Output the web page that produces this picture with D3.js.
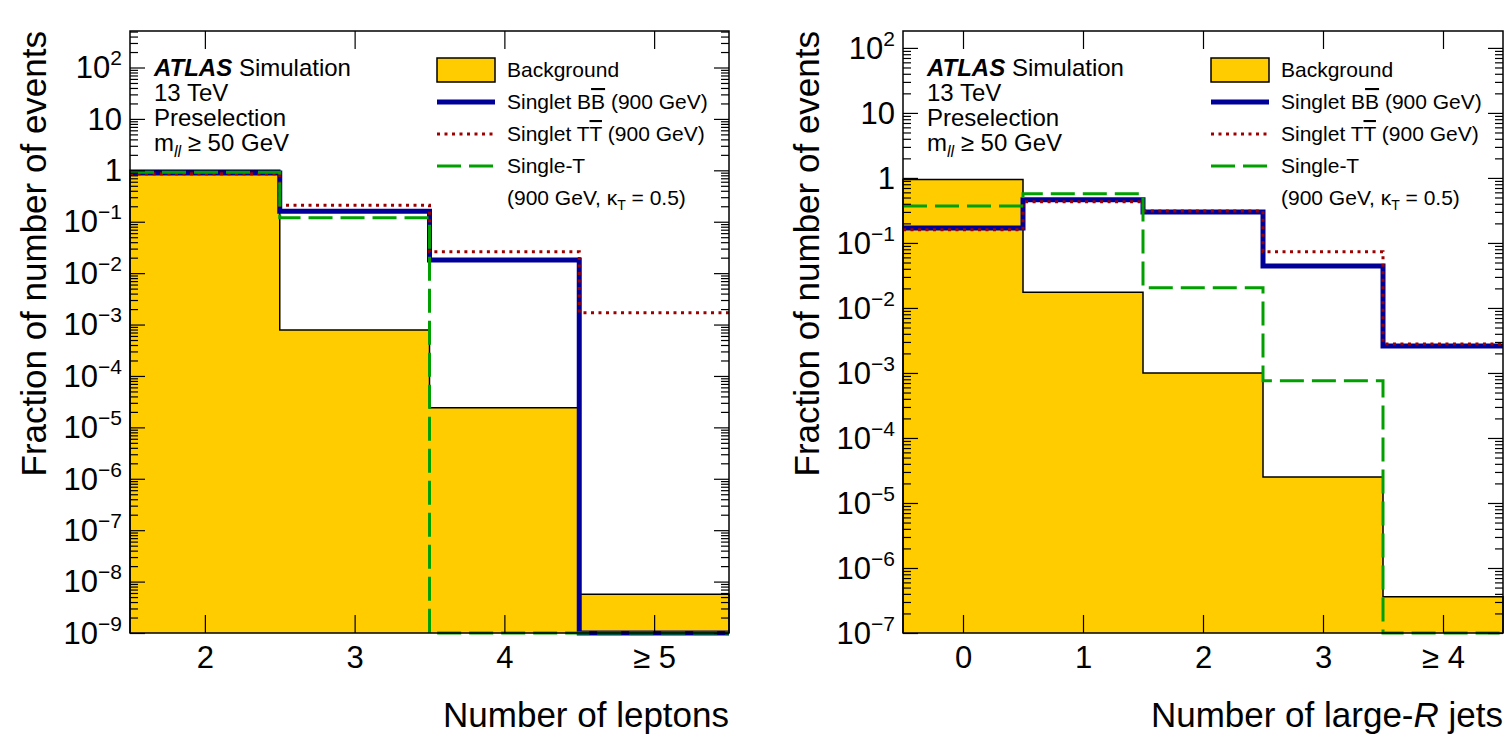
<!DOCTYPE html>
<html>
<head>
<meta charset="utf-8">
<script src="https://cdn.jsdelivr.net/npm/d3@7/dist/d3.min.js"></script>
<style>
	body { margin: 0; background: #fff; }
	svg { display: block; font-family: 'Liberation Sans', Arial, Helvetica, sans-serif; }
	.tick text { font-family: 'Liberation Sans', Arial, Helvetica, sans-serif; fill: #000; }
	.tick line { stroke: #000; stroke-width: 1.2; }
</style>
</head>
<body>
<script>
'use strict'

// Left panel: number of leptons
let lep_bins = ['2', '3', '4', '≥ 5'],
	lep_bkg = [0.999, 7.8e-4, 2.4e-5, 5.7e-9],
	lep_bb = [0.89, 0.16, 0.018, 0],
	lep_tt = [0.86, 0.21, 0.026, 1.7e-3],
	lep_single_t = [0.92, 0.12, 0, 0],
	lep_y_range = [1e-9, 513]

// Right panel: number of large-R jets
let jet_bins = ['0', '1', '2', '3', '≥ 4'],
	jet_bkg = [0.95, 0.0174, 1.0e-3, 2.5e-5, 3.6e-7],
	jet_bb = [0.17, 0.46, 0.30, 0.044, 2.6e-3],
	jet_tt = [0.16, 0.43, 0.31, 0.073, 2.8e-3],
	jet_single_t = [0.37, 0.57, 0.0204, 7.6e-4, 0],
	jet_y_range = [1e-7, 182]

let col = {bkg: '#ffcc00', bb: '#000099', tt: '#9c0000', st: '#00a000'}

let svg = d3.select('body').append('svg').attr('width', 1507).attr('height', 737)

let panel = p => {
	let g = svg.append('g'),
		x = d3.scaleLinear().domain([-0.5, p.bins.length - 0.5]).range([p.x0, p.x1]),
		y = d3.scaleLog().domain(p.y_range).range([p.y1, p.y0]).clamp(true),
		yv = v => y(v > 0 ? v : p.y_range[0]),
		pts = vals => vals.map((v, i) => [[x(i - 0.5), yv(v)], [x(i + 0.5), yv(v)]]).flat(),
		line = d3.line()

	// background fill + outline
	g.append('path').attr('fill', col.bkg)
		.attr('d', d3.area().y0(p.y1)(pts(p.bkg)))
	g.append('path').attr('fill', 'none').attr('stroke', '#000').attr('stroke-width', 1.5)
		.attr('d', line([[p.x0, p.y1]].concat(pts(p.bkg), [[p.x1, p.y1]])))

	g.append('path').attr('fill', 'none').attr('stroke', col.bb).attr('stroke-width', 5)
		.attr('d', line(pts(p.bb)))
	g.append('path').attr('fill', 'none').attr('stroke', col.tt).attr('stroke-width', 3)
		.attr('stroke-dasharray', '3,4.5').attr('d', line(pts(p.tt)))
	g.append('path').attr('fill', 'none').attr('stroke', col.st).attr('stroke-width', 3)
		.attr('stroke-dasharray', '24,8').attr('d', line(pts(p.st)))

	// axes, ROOT style: ticks inside on all four sides
	let [lo, hi] = p.y_range,
		majors = d3.range(Math.ceil(Math.log10(lo)), Math.floor(Math.log10(hi)) + 1).map(e => Math.pow(10, e)),
		minors = d3.range(Math.floor(Math.log10(lo)), Math.ceil(Math.log10(hi)))
			.map(e => d3.range(2, 10).map(k => k * Math.pow(10, e))).flat()
			.filter(v => v > lo && v < hi),
		idx = d3.range(p.bins.length),
		strip = s => s.call(s => s.select('.domain').remove())

	g.append('g').attr('transform', `translate(0 ${p.y1})`)
		.call(d3.axisBottom(x).tickValues(idx).tickSize(-18).tickPadding(13)
			.tickFormat(i => p.bins[i])).call(strip)
		.selectAll('text').attr('font-size', 31)
	g.append('g').attr('transform', `translate(0 ${p.y0})`)
		.call(d3.axisTop(x).tickValues(idx).tickSize(-18).tickFormat('')).call(strip)

	g.append('g').attr('transform', `translate(${p.x0} 0)`)
		.call(d3.axisLeft(y).tickValues(majors).tickSize(-15).tickPadding(8)).call(strip)
		.selectAll('.tick text').attr('font-size', 31).attr('dy', '0.33em')
		.each(function(d) {
			let t = d3.select(this).text(''), e = Math.round(Math.log10(d))
			if (e === 0) return t.text('1')
			t.append('tspan').text('10')
			if (e !== 1) t.append('tspan').attr('dy', -13).attr('font-size', 21)
				.text(e < 0 ? '\u2212' + (-e) : e) })
	g.append('g').attr('transform', `translate(${p.x0} 0)`)
		.call(d3.axisLeft(y).tickValues(minors).tickSize(-8).tickFormat('')).call(strip)
	g.append('g').attr('transform', `translate(${p.x1} 0)`)
		.call(d3.axisRight(y).tickValues(majors).tickSize(-15).tickFormat('')).call(strip)
	g.append('g').attr('transform', `translate(${p.x1} 0)`)
		.call(d3.axisRight(y).tickValues(minors).tickSize(-8).tickFormat('')).call(strip)

	g.append('rect').attr('x', p.x0).attr('y', p.y0)
		.attr('width', p.x1 - p.x0).attr('height', p.y1 - p.y0)
		.attr('fill', 'none').attr('stroke', '#000').attr('stroke-width', 1.5)

	// titles
	g.append('text').attr('transform', `translate(${p.x0 - 84} ${p.y0}) rotate(-90)`)
		.attr('text-anchor', 'end').attr('font-size', 35).text('Fraction of number of events')
	p.x_title(g.append('text').attr('x', p.x1).attr('y', 727)
		.attr('text-anchor', 'end').attr('font-size', 35))

	// ATLAS label
	let lx = p.x0 + 24
	g.append('text').attr('x', lx).attr('y', 76).attr('font-size', 24)
		.call(t => t.append('tspan').attr('font-weight', 'bold').attr('font-style', 'italic').text('ATLAS'))
		.call(t => t.append('tspan').text(' Simulation'))
	g.append('text').attr('x', lx).attr('y', 101).attr('font-size', 24).text('13 TeV')
	g.append('text').attr('x', lx).attr('y', 126).attr('font-size', 24).text('Preselection')
	g.append('text').attr('x', lx).attr('y', 151).attr('font-size', 24)
		.call(t => t.append('tspan').text('m'))
		.call(t => t.append('tspan').attr('font-size', 16).attr('font-style', 'italic').attr('dy', 6).text('ll'))
		.call(t => t.append('tspan').attr('dy', -6).text(' ≥ 50 GeV'))

	// legend
	let sx = p.x1 - 292, tx = sx + 70, fs = 21,
		row = n => 77 + n * 32
	g.append('rect').attr('x', sx).attr('y', row(0) - 19).attr('width', 58).attr('height', 24)
		.attr('fill', col.bkg).attr('stroke', '#000').attr('stroke-width', 1.5)
	let sym = (n, c, w, dash) => g.append('line')
		.attr('x1', sx).attr('x2', sx + 58).attr('y1', row(n) - 7).attr('y2', row(n) - 7)
		.attr('stroke', c).attr('stroke-width', w).attr('stroke-dasharray', dash)
	sym(1, col.bb, 5, null)
	sym(2, col.tt, 3, '3,4.5')
	sym(3, col.st, 3, '24,8')
	let ltext = n => g.append('text').attr('x', tx).attr('y', row(n)).attr('font-size', fs)
	ltext(0).text('Background')
	ltext(1).call(t => t.append('tspan').text('Singlet B'))
		.call(t => t.append('tspan').style('text-decoration', 'overline').text('B'))
		.call(t => t.append('tspan').text(' (900 GeV)'))
	ltext(2).call(t => t.append('tspan').text('Singlet T'))
		.call(t => t.append('tspan').style('text-decoration', 'overline').text('T'))
		.call(t => t.append('tspan').text(' (900 GeV)'))
	ltext(3).text('Single-T')
	ltext(4).call(t => t.append('tspan').text('(900 GeV, κ'))
		.call(t => t.append('tspan').attr('font-size', 14).attr('dy', 5).text('T'))
		.call(t => t.append('tspan').attr('dy', -5).text(' = 0.5)'))
}

panel({
	bins: lep_bins, bkg: lep_bkg, bb: lep_bb, tt: lep_tt, st: lep_single_t, y_range: lep_y_range,
	x0: 130, x1: 729, y0: 31, y1: 633,
	x_title: t => t.text('Number of leptons') })

panel({
	bins: jet_bins, bkg: jet_bkg, bb: jet_bb, tt: jet_tt, st: jet_single_t, y_range: jet_y_range,
	x0: 903, x1: 1503, y0: 31, y1: 633,
	x_title: t => t.call(t => t.append('tspan').text('Number of large-'))
		.call(t => t.append('tspan').attr('font-style', 'italic').text('R'))
		.call(t => t.append('tspan').text(' jets')) })
</script>
</body>
</html>
